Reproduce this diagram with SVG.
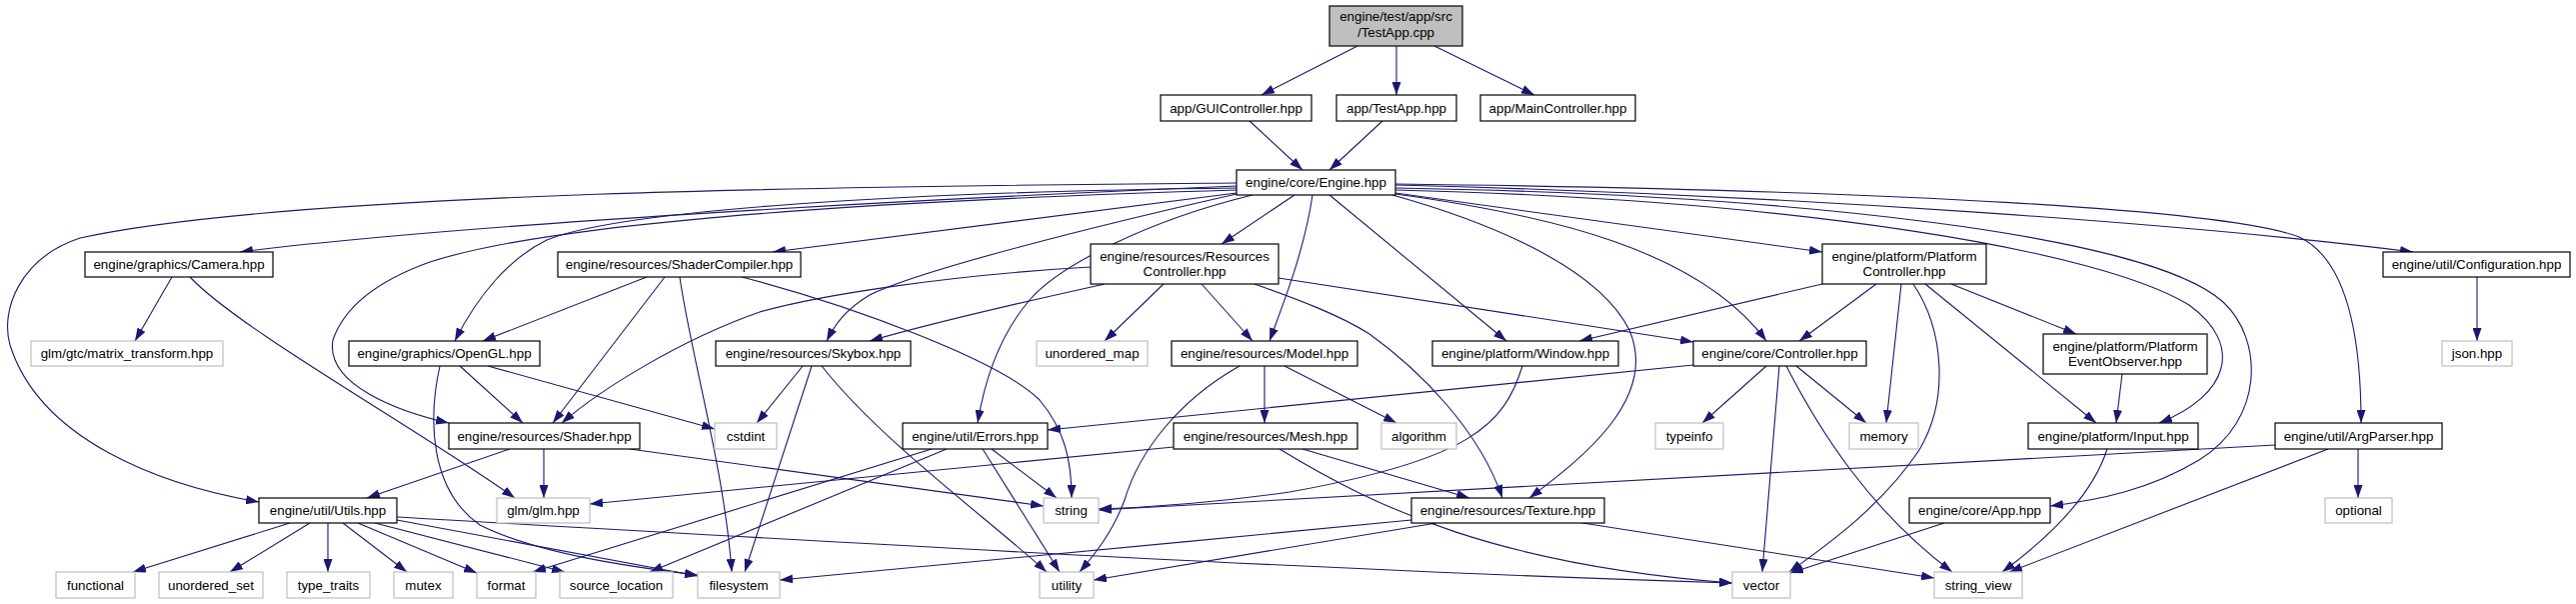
<svg xmlns="http://www.w3.org/2000/svg" width="2577" height="604" viewBox="0 0 2577 604">
<defs>
<marker id="a" markerWidth="13" markerHeight="9" refX="13" refY="4.5" orient="auto" markerUnits="userSpaceOnUse"><path d="M0,0 L13,4.5 L0,9 Z" fill="#191970"/></marker>
<style>
rect{fill:#fff;stroke:#000;stroke-width:1.2}
.g rect{stroke:#bfbfbf}
.root rect{fill:#bfbfbf}
text{font-family:"Liberation Sans",Arial,sans-serif;font-size:13.33px;text-anchor:middle;fill:#000}
#edges path{fill:none;stroke:#191970;stroke-width:1.1;marker-end:url(#a)}
</style>
</defs>
<rect x="0" y="0" width="2577" height="604" style="fill:#fff;stroke:none"/>
<g id="edges">
<path d="M1358,46 L1262,95"/>
<path d="M1397,46 L1397,95"/>
<path d="M1435,46 L1535,95"/>
<path d="M1250,121 L1303,170"/>
<path d="M1383,121 L1330,170"/>
<path d="M1237,186 C900,200 450,225 240,252"/>
<path d="M1237,183 C900,186 300,190 80,238 C20,258 0,310 10,345 C40,440 160,485 259,502"/>
<path d="M1237,190 C900,200 560,220 430,262 C380,280 345,305 333,340 C325,385 400,412 449,423"/>
<path d="M1237,193 L773,252"/>
<path d="M1237,188 C900,192 620,210 547,240 C510,258 478,295 455,341"/>
<path d="M1237,194 C1100,225 920,270 870,295 C845,310 835,325 827,341"/>
<path d="M1295,195 L1222,244"/>
<path d="M1253,195 C1150,220 1060,265 1030,300 C1000,335 985,380 978,423"/>
<path d="M1313,195 C1305,250 1285,300 1270,341"/>
<path d="M1330,195 L1507,341"/>
<path d="M1396,194 C1550,215 1700,250 1767,341"/>
<path d="M1393,195 C1500,225 1600,270 1630,330 C1660,400 1580,460 1530,498"/>
<path d="M1396,193 L1823,252"/>
<path d="M1396,190 C1800,200 2100,250 2190,305 C2245,345 2230,395 2160,423"/>
<path d="M1396,188 C1800,195 2150,235 2224,302 C2265,340 2265,420 2200,460 C2150,490 2100,500 2051,506"/>
<path d="M1396,184 C1900,190 2230,210 2300,237 C2345,258 2362,330 2362,423"/>
<path d="M1396,185 C1800,195 2200,225 2414,252"/>
<path d="M172,277 L135,341"/>
<path d="M190,277 C240,330 420,430 515,498"/>
<path d="M647,277 L483,341"/>
<path d="M665,277 L553,423"/>
<path d="M680,277 C690,350 725,470 732,572"/>
<path d="M742,277 C850,305 1000,360 1040,400 C1065,430 1072,460 1072,498"/>
<path d="M1091,267 C950,275 820,295 760,312 C680,340 600,390 562,423"/>
<path d="M1105,284 C1060,294 950,318 870,341"/>
<path d="M1164,284 L1105,341"/>
<path d="M1202,284 L1253,341"/>
<path d="M1279,278 L1694,342"/>
<path d="M1255,284 C1300,300 1340,315 1370,334 C1420,370 1480,430 1503,498"/>
<path d="M1823,284 L1580,341"/>
<path d="M1877,284 L1800,341"/>
<path d="M1902,284 L1887,423"/>
<path d="M1914,284 C1945,330 1950,400 1920,450 C1880,510 1820,550 1790,572"/>
<path d="M1926,284 L2097,423"/>
<path d="M1952,284 L2077,334"/>
<path d="M2478,277 L2478,341"/>
<path d="M460,366 L523,423"/>
<path d="M488,366 L715,429"/>
<path d="M440,366 C428,420 430,490 480,525 C540,555 640,568 698,575"/>
<path d="M803,366 L757,423"/>
<path d="M812,366 L745,572"/>
<path d="M822,366 C880,440 990,520 1047,572"/>
<path d="M1265,366 L1265,423"/>
<path d="M1285,366 L1397,423"/>
<path d="M1240,366 C1180,400 1140,450 1125,500 C1112,535 1092,558 1080,572"/>
<path d="M1523,366 C1505,425 1470,460 1290,492 C1200,505 1130,508 1099,509"/>
<path d="M1694,365 L1048,430"/>
<path d="M1767,366 L1703,423"/>
<path d="M1797,366 L1867,423"/>
<path d="M1780,366 L1763,572"/>
<path d="M1787,366 C1820,430 1870,510 1953,572"/>
<path d="M2123,374 L2117,423"/>
<path d="M2108,449 C2095,490 2060,530 2003,572"/>
<path d="M2276,445 L1099,510"/>
<path d="M2359,449 L2359,498"/>
<path d="M2329,449 L2010,572"/>
<path d="M510,449 L367,498"/>
<path d="M544,449 L544,498"/>
<path d="M630,449 L1044,506"/>
<path d="M992,449 L1057,498"/>
<path d="M983,449 L1060,572"/>
<path d="M932,449 L533,572"/>
<path d="M947,449 L650,572"/>
<path d="M1174,447 L590,504"/>
<path d="M1303,449 L1470,498"/>
<path d="M1280,449 C1380,510 1500,565 1733,583"/>
<path d="M290,523 L133,572"/>
<path d="M310,523 L230,572"/>
<path d="M328,523 L328,572"/>
<path d="M343,523 L407,572"/>
<path d="M358,523 L477,573"/>
<path d="M375,523 L565,572"/>
<path d="M397,520 L698,576"/>
<path d="M397,517 C800,540 1300,570 1733,583"/>
<path d="M1412,520 C1200,540 900,570 780,580"/>
<path d="M1437,523 L1094,580"/>
<path d="M1583,523 L1935,578"/>
<path d="M1945,523 L1791,573"/>
</g>
<g id="n_root" class="root"><rect x="1330" y="6" width="133" height="40"/><text x="1396.5" y="21">engine/test/app/src</text><text x="1396.5" y="37">/TestApp.cpp</text></g>
<g id="n_gui"><rect x="1161" y="95" width="151" height="26"/><text x="1236.5" y="112.5">app/GUIController.hpp</text></g>
<g id="n_testapp"><rect x="1337" y="95" width="120" height="26"/><text x="1397" y="112.5">app/TestApp.hpp</text></g>
<g id="n_main"><rect x="1481" y="95" width="155" height="26"/><text x="1558.5" y="112.5">app/MainController.hpp</text></g>
<g id="n_engine"><rect x="1237" y="170" width="159" height="25"/><text x="1316.5" y="187">engine/core/Engine.hpp</text></g>
<g id="n_camera"><rect x="85" y="252" width="188" height="25"/><text x="179" y="269">engine/graphics/Camera.hpp</text></g>
<g id="n_shadercompiler"><rect x="558" y="252" width="243" height="25"/><text x="679.5" y="269">engine/resources/ShaderCompiler.hpp</text></g>
<g id="n_rescontroller"><rect x="1091" y="244" width="188" height="40"/><text x="1185" y="261">engine/resources/Resources</text><text x="1185" y="276">Controller.hpp</text></g>
<g id="n_platctrl"><rect x="1823" y="244" width="164" height="40"/><text x="1905" y="261">engine/platform/Platform</text><text x="1905" y="276">Controller.hpp</text></g>
<g id="n_config"><rect x="2384" y="252" width="187" height="25"/><text x="2477.5" y="269">engine/util/Configuration.hpp</text></g>
<g id="n_matrix" class="g"><rect x="31" y="341" width="192" height="25"/><text x="127" y="358">glm/gtc/matrix_transform.hpp</text></g>
<g id="n_opengl"><rect x="349" y="341" width="191" height="25"/><text x="444.5" y="358">engine/graphics/OpenGL.hpp</text></g>
<g id="n_skybox"><rect x="716" y="341" width="195" height="25"/><text x="813.5" y="358">engine/resources/Skybox.hpp</text></g>
<g id="n_umap" class="g"><rect x="1037" y="341" width="111" height="25"/><text x="1092.5" y="358">unordered_map</text></g>
<g id="n_model"><rect x="1172" y="341" width="186" height="25"/><text x="1265" y="358">engine/resources/Model.hpp</text></g>
<g id="n_window"><rect x="1433" y="341" width="186" height="25"/><text x="1526" y="358">engine/platform/Window.hpp</text></g>
<g id="n_controller"><rect x="1694" y="341" width="173" height="25"/><text x="1780.5" y="358">engine/core/Controller.hpp</text></g>
<g id="n_peo"><rect x="2044" y="334" width="164" height="40"/><text x="2126" y="351">engine/platform/Platform</text><text x="2126" y="366">EventObserver.hpp</text></g>
<g id="n_json" class="g"><rect x="2443" y="341" width="70" height="25"/><text x="2478" y="358">json.hpp</text></g>
<g id="n_shader"><rect x="449" y="423" width="191" height="26"/><text x="544.5" y="440.5">engine/resources/Shader.hpp</text></g>
<g id="n_cstdint" class="g"><rect x="715" y="423" width="62" height="26"/><text x="746" y="440.5">cstdint</text></g>
<g id="n_errors"><rect x="903" y="423" width="145" height="26"/><text x="975.5" y="440.5">engine/util/Errors.hpp</text></g>
<g id="n_mesh"><rect x="1174" y="423" width="184" height="26"/><text x="1266" y="440.5">engine/resources/Mesh.hpp</text></g>
<g id="n_algorithm" class="g"><rect x="1382" y="423" width="75" height="26"/><text x="1419.5" y="440.5">algorithm</text></g>
<g id="n_typeinfo" class="g"><rect x="1656" y="423" width="68" height="26"/><text x="1690" y="440.5">typeinfo</text></g>
<g id="n_memory" class="g"><rect x="1850" y="423" width="69" height="26"/><text x="1884.5" y="440.5">memory</text></g>
<g id="n_input"><rect x="2029" y="423" width="170" height="26"/><text x="2114" y="440.5">engine/platform/Input.hpp</text></g>
<g id="n_argparser"><rect x="2276" y="423" width="167" height="26"/><text x="2359.5" y="440.5">engine/util/ArgParser.hpp</text></g>
<g id="n_utils"><rect x="259" y="498" width="138" height="25"/><text x="328" y="515">engine/util/Utils.hpp</text></g>
<g id="n_glm" class="g"><rect x="497" y="498" width="93" height="25"/><text x="543.5" y="515">glm/glm.hpp</text></g>
<g id="n_string" class="g"><rect x="1044" y="498" width="55" height="25"/><text x="1071.5" y="515">string</text></g>
<g id="n_texture"><rect x="1412" y="498" width="193" height="25"/><text x="1508.5" y="515">engine/resources/Texture.hpp</text></g>
<g id="n_app"><rect x="1910" y="498" width="141" height="25"/><text x="1980.5" y="515">engine/core/App.hpp</text></g>
<g id="n_optional" class="g"><rect x="2326" y="498" width="67" height="25"/><text x="2359.5" y="515">optional</text></g>
<g id="n_functional" class="g"><rect x="56" y="572" width="79" height="26"/><text x="95.5" y="589.5">functional</text></g>
<g id="n_uset" class="g"><rect x="159" y="572" width="104" height="26"/><text x="211" y="589.5">unordered_set</text></g>
<g id="n_typetraits" class="g"><rect x="287" y="572" width="83" height="26"/><text x="328.5" y="589.5">type_traits</text></g>
<g id="n_mutex" class="g"><rect x="394" y="572" width="59" height="26"/><text x="423.5" y="589.5">mutex</text></g>
<g id="n_format" class="g"><rect x="477" y="572" width="59" height="26"/><text x="506.5" y="589.5">format</text></g>
<g id="n_srcloc" class="g"><rect x="560" y="572" width="113" height="26"/><text x="616.5" y="589.5">source_location</text></g>
<g id="n_filesystem" class="g"><rect x="698" y="572" width="82" height="26"/><text x="739" y="589.5">filesystem</text></g>
<g id="n_utility" class="g"><rect x="1040" y="572" width="54" height="26"/><text x="1067" y="589.5">utility</text></g>
<g id="n_vector" class="g"><rect x="1733" y="572" width="58" height="26"/><text x="1762" y="589.5">vector</text></g>
<g id="n_stringview" class="g"><rect x="1935" y="572" width="88" height="26"/><text x="1979" y="589.5">string_view</text></g>
</svg>
